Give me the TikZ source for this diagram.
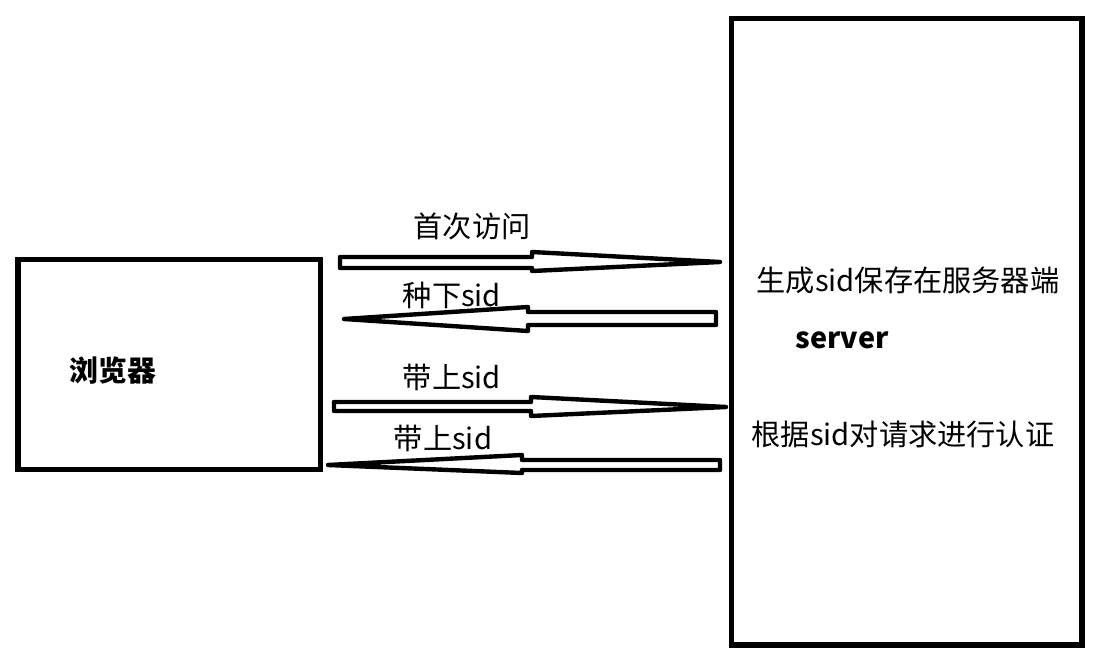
\documentclass[tikz,border=0pt]{standalone}
\usepackage{fontspec}
\newfontfamily\cjk{Noto Sans CJK SC}
\begin{document}
\begin{tikzpicture}[x=1pt,y=-1pt,
  box/.style={draw=black,line width=5.5pt},
  blockarrow/.style={draw=black,line width=4.4pt,line join=round,fill=white},
  lbl/.style={font=\cjk\fontsize{29.2}{31}\selectfont,anchor=base,inner sep=0pt},
  blbl/.style={font=\cjk\bfseries\fontsize{28.8}{30}\selectfont,anchor=base,inner sep=0pt}]
\useasboundingbox[fill=white] (0,0) rectangle (1106,669);
% boxes
\draw[box] (18,259.7) rectangle (320.3,469.5);
\draw[box] (731.3,18.7) rectangle (1082,645);
% block arrows
\draw[blockarrow] (340,257) -- (532,257) -- (532,252) -- (720,262) -- (532,271) -- (532,268) -- (340,268) -- cycle;
\draw[blockarrow] (716,312) -- (528,312) -- (528,307) -- (344,319) -- (528,331) -- (528,325) -- (716,325) -- cycle;
\draw[blockarrow] (334,402) -- (531,402) -- (531,397) -- (726,407) -- (531,416) -- (531,411) -- (334,411) -- cycle;
\draw[blockarrow] (720,460) -- (522,460) -- (522,455) -- (328,465) -- (522,473) -- (522,470) -- (720,470) -- cycle;
% labels
\node[lbl] (l1) at (472,237) {首次访问};
\node[lbl] (l2) at (452,306) {种下sid};
\node[lbl] (l3) at (452,388) {带上sid};
\node[lbl] (l4) at (443,449) {带上sid};
\node[blbl] (browser) at (113,381) {浏览器};
\node[lbl] (s1) at (908,291) {生成sid保存在服务器端};
\node[blbl] (server) at (842,348) {server};
\node[lbl] (s2) at (903,445) {根据sid对请求进行认证};
\end{tikzpicture}
\end{document}
